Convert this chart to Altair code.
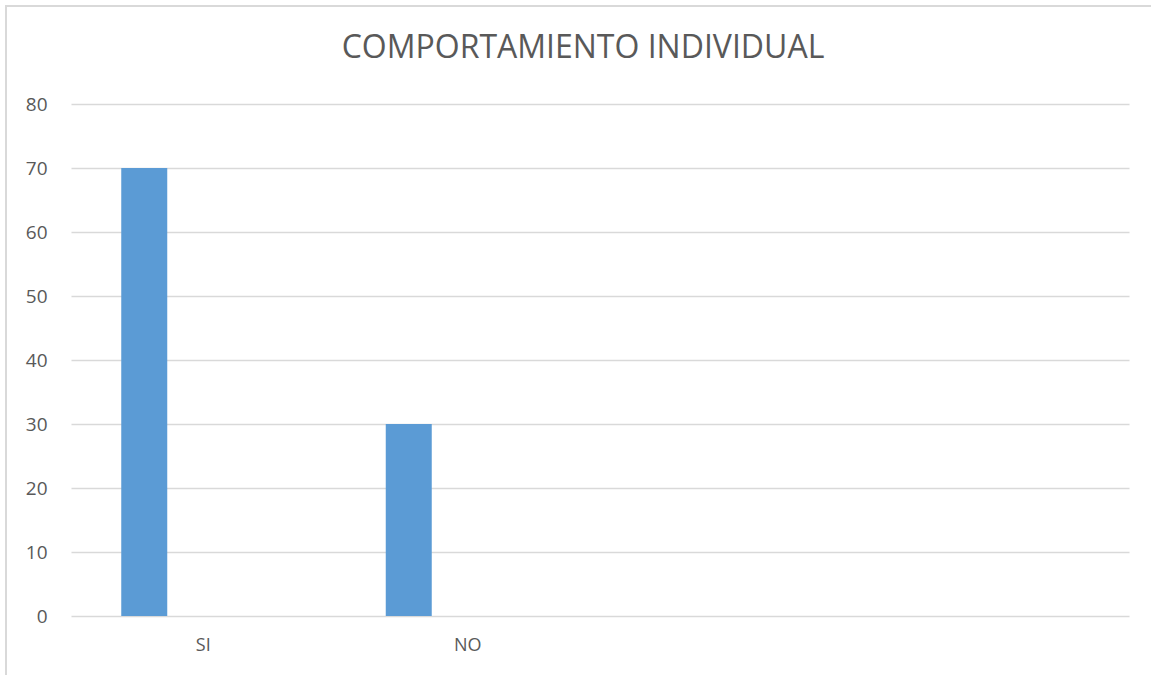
import altair as alt
import pandas as pd

categories = ["SI", "NO", " ", "  "]
values = [70, 30, None, None]
y_ticks = [0, 10, 20, 30, 40, 50, 60, 70, 80]
title_text = "COMPORTAMIENTO INDIVIDUAL"

df = pd.DataFrame({"cat": categories, "val": values})

FONT = "Open Sans"
TXT = "#595959"

bars = alt.Chart(df).mark_bar(color="#5B9BD5", width=46, xOffset=-59).encode(
    x=alt.X("cat:N", sort=categories, title=None,
            scale=alt.Scale(paddingInner=0, paddingOuter=0),
            axis=alt.Axis(labelAngle=0, ticks=False, domain=False, grid=False,
                          labelFont=FONT, labelFontSize=18, labelColor=TXT,
                          labelPadding=20)),
    y=alt.Y("val:Q", title=None, scale=alt.Scale(domain=[0, 80], nice=False),
            axis=alt.Axis(values=y_ticks, ticks=False, domain=False,
                          gridColor="#D9D9D9", gridWidth=1.3,
                          labelFont=FONT, labelFontSize=19, labelColor=TXT,
                          labelPadding=24)),
)

frame = alt.Chart(df).mark_rect(fill=None, stroke="#D9D9D9", strokeWidth=1.5).encode(
    x=alt.value(-65), x2=alt.value(1090), y=alt.value(-98), y2=alt.value(600)
)

chart = alt.layer(frame, bars).properties(
    width=1058, height=512,
    background="white",
    title=alt.TitleParams(title_text, font=FONT, fontSize=32, fontWeight="normal",
                          color=TXT, anchor="middle", dx=-17, offset=-60),
    autosize=alt.AutoSizeParams(type="none"),
    padding={"left": 71, "top": 104, "right": 22, "bottom": 59},
).configure_view(stroke=None)

chart.save("out.html", embed_options={"renderer": "svg", "actions": False})
